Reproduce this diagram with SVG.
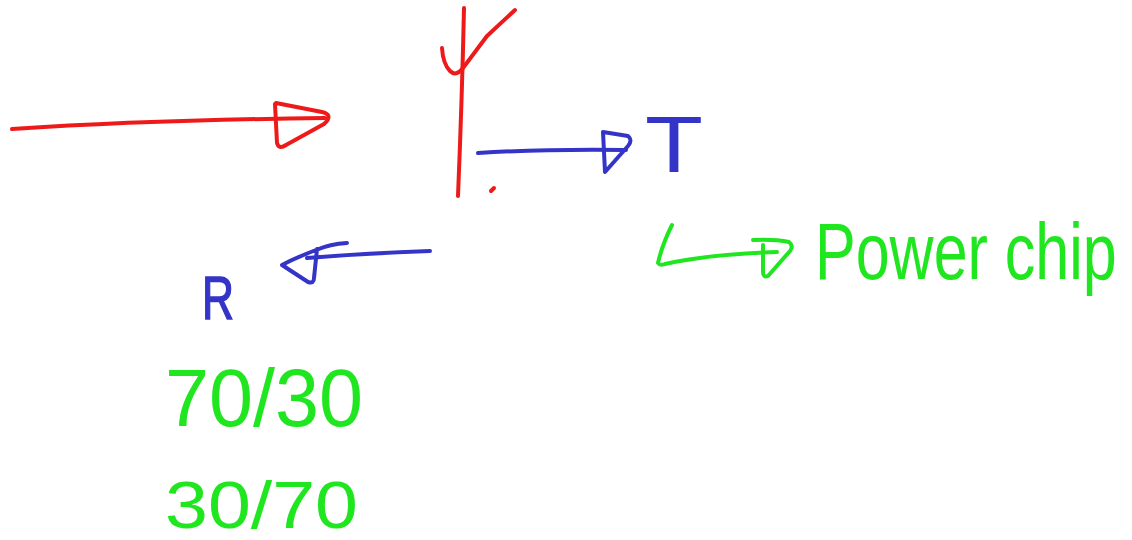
<svg xmlns="http://www.w3.org/2000/svg" width="1132" height="540" viewBox="0 0 1132 540">
<style>
.s{fill:none;stroke-width:4;stroke-linecap:round;stroke-linejoin:round}
.r{stroke:#ee1a1a}
.b{stroke:#3434c8}
.g{stroke:#20e620}
.t{font-family:"Liberation Sans",Arial,sans-serif}
</style>
<rect width="1132" height="540" fill="#ffffff"/>
<g id="red-input-arrow">
<path class="s r" d="M12,129 Q150,120 325,118"/>
<path class="s r" d="M275,104 L277,143 Q279,150 286,145 L324,124 Q334,115 322,112 L276,103"/>
</g>
<g id="antenna">
<path class="s r" d="M464,8 Q462,100 458,196"/>
<path class="s r" d="M442,48 Q443,64 450,71 Q456,77 463,68 L487,36 L515,10"/>
<path class="s r" d="M491,191 L494,188"/>
</g>
<g id="T-arrow">
<path class="s b" d="M478,153 Q540,149 626,150"/>
<path class="s b" d="M603,132 L628,136 Q633,140 628,146 L605,172 L603,132"/>
<text class="t" x="645" y="172" font-size="80" fill="#3434c8" textLength="58" lengthAdjust="spacingAndGlyphs">T</text>
</g>
<g id="R-arrow">
<path class="s b" d="M430,251 Q370,253 307,258"/>
<path class="s b" d="M347,243 Q330,244 316,250 Q295,258 282,265 L308,282 Q314,284 314,278 L317,249"/>
<text class="t" x="202" y="319" font-size="62" fill="#3434c8" stroke="#3434c8" stroke-width="1.5" textLength="32" lengthAdjust="spacingAndGlyphs">R</text>
</g>
<g id="ratios">
<text class="t" x="165" y="426" font-size="82" fill="#20e620" textLength="198" lengthAdjust="spacingAndGlyphs">70/30</text>
<text class="t" x="165" y="528" font-size="66" fill="#20e620" textLength="193" lengthAdjust="spacingAndGlyphs">30/70</text>
</g>
<g id="power-chip">
<path class="s g" d="M672,225 Q662,245 658,263 Q660,266 665,264 Q710,254 777,252"/>
<path class="s g" d="M753,240 Q775,239 789,242 Q794,246 790,251 L768,276 Q763,278 763,272 L763,245"/>
<text class="t" transform="matrix(1,0,0,1.3,815,279)" font-size="61" fill="#20e620">Power chip</text>
</g>
</svg>
